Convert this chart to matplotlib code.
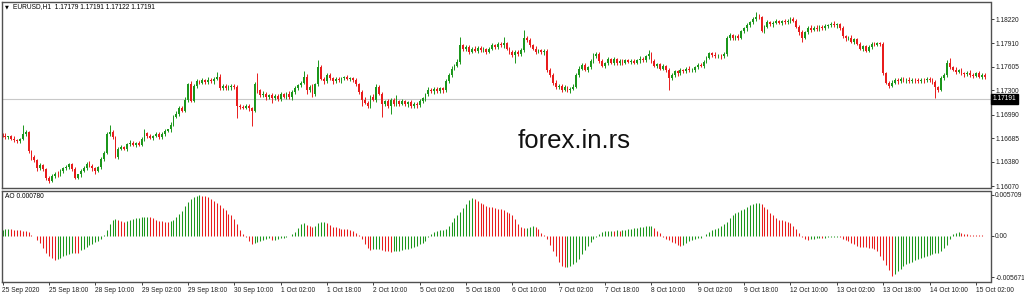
import numpy as np
import matplotlib
matplotlib.use("Agg")
import matplotlib.pyplot as plt
import matplotlib.transforms as mtransforms

plt.rcParams['font.family'] = ['Liberation Sans', 'DejaVu Sans']

# EURUSD H1, 340 bars, prices kept in pips above BASE
BASE = 1.16
PIP = 1e-4
FIRST_OPEN = 73

CLOSE = [
    72, 70, 71, 68, 66, 65, 68, 74, 76, 52,
    44, 40, 30, 34, 29, 18, 14, 20, 23, 22,
    27, 30, 31, 35, 29, 18, 22, 27, 30, 36,
    33, 30, 27, 31, 42, 50, 74, 76, 70, 45,
    55, 57, 55, 61, 63, 60, 62, 60, 68, 75,
    71, 69, 72, 74, 70, 74, 78, 80, 86, 96,
    100, 108, 104, 118, 138, 117, 136, 142, 140, 143,
    141, 144, 142, 145, 148, 133, 136, 133, 134, 136,
    134, 110, 109, 108, 110, 107, 104, 138, 130, 124,
    126, 121, 124, 120, 123, 119, 125, 122, 126, 121,
    128, 133, 137, 140, 148, 130, 135, 125, 138, 160,
    145, 142, 150, 146, 142, 145, 143, 146, 147, 145,
    146, 143, 138, 128, 118, 114, 110, 122, 118, 134,
    126, 112, 116, 110, 118, 112, 116, 113, 116, 112,
    115, 110, 113, 111, 116, 120, 125, 131, 129, 132,
    129, 133, 130, 142, 150, 158, 162, 167, 188, 183,
    186, 180, 184, 181, 185, 182, 183, 180, 184, 188,
    186, 190, 188, 191, 184, 179, 176, 180, 177, 182,
    197, 195, 188, 184, 180, 182, 179, 181, 156, 150,
    140, 134, 136, 131, 134, 130, 132, 135, 150, 158,
    163, 157, 160, 168, 175, 177, 168, 162, 165, 170,
    166, 170, 165, 168, 166, 169, 167, 168, 166, 169,
    171, 169, 174, 177, 168, 162, 164, 158, 161, 157,
    146, 150, 155, 152, 156, 155, 158, 156, 157, 160,
    163, 162, 167, 172, 178, 176, 174, 175, 174, 177,
    198, 201, 197, 200, 198, 206, 210, 214, 218, 222,
    225, 224, 207, 212, 218, 215, 217, 219, 217, 219,
    218, 220, 222, 220, 212, 205, 198, 205, 211, 208,
    211, 209, 212, 210, 213, 214, 216, 214, 215, 210,
    200, 197, 198, 193, 196, 190, 184, 187, 181, 186,
    190, 189, 191, 190, 152, 140, 136, 140, 144, 142,
    145, 143, 144, 142, 144, 143, 142, 144, 143, 145,
    143, 141, 134, 131, 146, 150, 165, 160, 157, 154,
    156, 152, 151, 153, 150, 149, 152, 148, 150, 147,
]

WICK_UP = [
    2, 3, 1, 2, 3, 2, 1, 12, 3, 2,
    2, 3, 2, 3, 2, 1, 2, 3, 2, 3,
    2, 1, 3, 2, 2, 3, 1, 2, 3, 2,
    3, 2, 1, 2, 3, 2, 2, 9, 3, 2,
    2, 3, 2, 1, 3, 2, 2, 3, 2, 5,
    2, 3, 1, 2, 3, 2, 2, 1, 3, 2,
    3, 2, 2, 3, 2, 4, 2, 3, 2, 3,
    2, 3, 2, 2, 6, 3, 2, 2, 3, 2,
    2, 3, 2, 2, 3, 2, 2, 3, 14, 2,
    3, 2, 2, 3, 2, 2, 3, 2, 2, 3,
    2, 3, 2, 2, 7, 3, 2, 3, 2, 9,
    3, 2, 2, 3, 2, 2, 3, 2, 2, 3,
    2, 2, 3, 2, 2, 3, 2, 2, 3, 4,
    3, 2, 2, 3, 2, 2, 8, 2, 3, 2,
    2, 3, 2, 2, 3, 2, 2, 3, 2, 2,
    3, 2, 2, 3, 2, 3, 2, 3, 11, 2,
    3, 2, 2, 3, 2, 2, 3, 2, 2, 3,
    2, 3, 2, 8, 2, 2, 3, 2, 2, 3,
    11, 3, 2, 2, 3, 2, 2, 3, 2, 3,
    2, 3, 2, 2, 3, 2, 2, 3, 2, 3,
    2, 3, 2, 2, 3, 2, 3, 2, 2, 3,
    2, 3, 2, 2, 3, 2, 2, 3, 2, 2,
    3, 2, 2, 5, 2, 3, 2, 2, 3, 2,
    2, 3, 2, 2, 3, 2, 2, 3, 2, 2,
    3, 2, 2, 3, 2, 2, 3, 2, 2, 3,
    2, 3, 2, 2, 3, 2, 2, 3, 2, 3,
    6, 3, 2, 2, 3, 2, 2, 3, 2, 2,
    3, 2, 2, 3, 2, 2, 3, 2, 2, 3,
    2, 3, 2, 2, 3, 2, 2, 3, 2, 2,
    3, 2, 2, 3, 2, 2, 3, 2, 2, 3,
    2, 3, 2, 2, 3, 2, 2, 3, 2, 2,
    3, 2, 2, 3, 2, 2, 3, 2, 2, 3,
    2, 3, 2, 2, 3, 2, 4, 7, 2, 3,
    2, 3, 2, 2, 3, 2, 2, 3, 2, 2,
]

WICK_DN = [
    2, 2, 3, 2, 2, 3, 2, 2, 3, 2,
    3, 2, 3, 2, 2, 3, 3, 2, 2, 3,
    2, 3, 2, 2, 3, 2, 2, 3, 2, 2,
    2, 3, 5, 2, 2, 3, 2, 2, 3, 2,
    3, 2, 2, 3, 2, 2, 3, 2, 2, 3,
    2, 2, 3, 2, 2, 3, 2, 2, 3, 2,
    2, 3, 2, 2, 3, 2, 2, 3, 2, 2,
    3, 2, 2, 3, 2, 2, 3, 2, 2, 3,
    2, 15, 3, 2, 2, 3, 20, 2, 3, 2,
    2, 3, 2, 6, 2, 3, 2, 2, 3, 2,
    3, 2, 2, 3, 2, 4, 2, 3, 2, 2,
    2, 3, 2, 2, 3, 2, 2, 3, 2, 2,
    3, 2, 2, 3, 8, 2, 3, 2, 2, 3,
    2, 16, 2, 3, 10, 2, 2, 3, 2, 2,
    3, 2, 2, 3, 2, 2, 3, 2, 2, 3,
    2, 2, 3, 2, 2, 3, 2, 2, 3, 2,
    2, 3, 2, 2, 3, 2, 2, 3, 2, 2,
    3, 2, 2, 3, 2, 2, 3, 11, 2, 2,
    2, 3, 2, 2, 3, 2, 2, 3, 2, 2,
    3, 2, 2, 3, 2, 2, 3, 2, 2, 3,
    2, 2, 3, 2, 2, 3, 2, 2, 3, 2,
    2, 3, 2, 2, 3, 2, 2, 3, 2, 2,
    3, 2, 2, 3, 2, 2, 3, 2, 2, 3,
    16, 2, 2, 3, 2, 2, 3, 2, 2, 3,
    2, 2, 3, 2, 2, 3, 2, 2, 3, 2,
    2, 3, 2, 2, 3, 2, 2, 3, 2, 2,
    3, 2, 2, 3, 2, 2, 3, 2, 2, 3,
    2, 2, 3, 2, 2, 3, 6, 2, 2, 3,
    2, 2, 3, 2, 2, 3, 2, 2, 3, 2,
    2, 3, 2, 2, 3, 2, 2, 3, 2, 2,
    3, 2, 2, 3, 2, 2, 3, 2, 2, 3,
    2, 2, 3, 2, 2, 3, 2, 2, 3, 2,
    2, 3, 14, 3, 2, 2, 3, 2, 2, 3,
    2, 2, 3, 2, 2, 3, 2, 2, 3, 2,
]

# Awesome Oscillator, in units of 1e-4
AO = [
    8.5, 9.0, 9.4, 9.2, 8.6, 8.0, 7.6, 7.0, 6.4, 6.0,
    2.0, -0.5, -5.5, -10.0, -17.0, -23.0, -27.4, -31.0, -33.0, -32.0,
    -30.0, -28.0, -26.0, -24.7, -23.5, -23.8, -23.9, -20.0, -17.8, -15.0,
    -12.8, -11.0, -8.7, -6.9, -4.1, 1.5, 8.2, 16.0, 22.0, 23.8,
    22.4, 21.0, 19.6, 20.1, 22.4, 23.3, 24.2, 25.1, 25.6, 26.0,
    26.1, 25.6, 24.2, 22.4, 21.0, 20.1, 19.6, 19.4, 20.6, 22.4,
    25.6, 30.0, 35.0, 41.0, 47.0, 51.0, 54.4, 55.7, 56.0, 55.3,
    54.8, 53.5, 51.6, 48.9, 46.2, 43.0, 39.3, 35.2, 31.0, 28.3,
    22.9, 16.0, 8.2, 2.7, -1.8, -6.9, -11.4, -10.0, -8.2, -6.4,
    -5.0, -4.1, -3.2, -5.5, -5.0, -3.7, -2.7, -2.3, -1.4, -0.5,
    2.3, 6.0, 11.4, 16.0, 17.4, 14.6, 13.3, 12.3, 14.2, 17.4,
    19.2, 19.7, 18.3, 15.5, 12.8, 11.9, 11.0, 10.0, 9.6, 9.1,
    8.7, 7.3, 4.1, 0.9, -4.1, -11.0, -17.0, -19.7, -18.3, -17.8,
    -17.4, -18.7, -20.1, -21.0, -21.7, -21.3, -20.6, -20.1, -19.2, -18.3,
    -17.4, -16.0, -14.6, -13.3, -11.4, -9.6, -6.4, -1.8, 2.7, 5.0,
    6.9, 8.2, 8.3, 10.0, 14.2, 18.7, 25.1, 29.2, 33.4, 38.8,
    43.9, 49.4, 53.0, 51.2, 48.4, 46.2, 43.9, 42.0, 40.7, 39.8,
    38.8, 37.9, 36.6, 35.4, 33.4, 31.1, 29.2, 22.9, 16.9, 12.8,
    11.0, 11.4, 12.8, 13.3, 12.3, 9.1, 3.7, 0.9, -3.7, -12.3,
    -20.6, -28.3, -36.0, -41.1, -43.4, -42.8, -41.6, -39.3, -36.1, -31.1,
    -24.7, -18.7, -13.7, -8.7, -4.6, -0.9, 2.7, 5.0, 6.4, 7.3,
    7.4, 7.1, 8.2, 7.5, 8.0, 8.7, 9.1, 9.6, 10.5, 11.2,
    11.9, 12.6, 13.3, 13.7, 14.2, 11.0, 6.9, 3.7, -0.9, -4.1,
    -5.9, -8.2, -10.0, -12.3, -13.7, -11.9, -9.1, -7.3, -5.9, -4.6,
    -3.2, -2.1, 0.3, 3.2, 5.9, 7.8, 9.6, 11.4, 13.3, 16.0,
    18.7, 24.2, 28.3, 31.5, 33.8, 35.6, 37.7, 40.2, 43.0, 44.8,
    45.7, 45.9, 43.9, 40.2, 37.0, 32.4, 28.3, 24.7, 22.4, 21.7,
    21.0, 19.7, 17.8, 14.2, 9.6, 3.7, -0.9, -3.7, -5.0, -4.6,
    -3.7, -2.7, -2.3, -2.7, -2.1, -1.8, -1.4, -1.1, -0.9, -1.8,
    -3.7, -5.5, -7.3, -9.6, -11.0, -13.3, -14.6, -15.1, -15.8, -16.2,
    -16.5, -17.4, -21.0, -27.0, -33.8, -40.7, -47.5, -54.8, -52.0, -48.4,
    -45.2, -42.0, -39.3, -37.5, -35.4, -33.4, -31.5, -30.2, -28.6, -27.2,
    -26.0, -24.7, -23.8, -23.1, -20.6, -16.9, -12.3, -4.6, 2.7, 4.6,
    5.0, 3.9, 2.7, 2.1, 1.6, 1.4, 1.1, 0.9, 0.7, 0.5,
]

PRICE_TICKS = [1.18220, 1.17910, 1.17605, 1.17300, 1.16990, 1.16685, 1.16380, 1.16070]
AO_TICKS = [0.005709, 0.0, -0.005671]
AO_TICK_LABELS = ["0.005709", "0.00", "-0.005671"]
XTICK_LABELS = ["25 Sep 2020", "25 Sep 18:00", "28 Sep 10:00", "29 Sep 02:00", "29 Sep 18:00",
                "30 Sep 10:00", "1 Oct 02:00", "1 Oct 18:00", "2 Oct 10:00", "5 Oct 02:00",
                "5 Oct 18:00", "6 Oct 10:00", "7 Oct 02:00", "7 Oct 18:00", "8 Oct 10:00",
                "9 Oct 02:00", "9 Oct 18:00", "12 Oct 10:00", "13 Oct 02:00", "13 Oct 18:00",
                "14 Oct 10:00", "15 Oct 02:00"]
BARS_PER_LABEL = 16
BID = 1.17191
HEADER = "EURUSD,H1  1.17179 1.17191 1.17122 1.17191"
AO_HEADER = "AO 0.000780"

GREEN = "#1b961b"
RED = "#e81c1c"
FRAME = "#505050"
FS = 4.8

close = BASE + np.array(CLOSE) * PIP
# H1 forex bars open where the previous one closed
opn = np.concatenate([[BASE + FIRST_OPEN * PIP], close[:-1]])
high = np.maximum(opn, close) + np.array(WICK_UP) * PIP
low = np.minimum(opn, close) - np.array(WICK_DN) * PIP
x = np.arange(len(close))
up = close >= opn
ccol = np.where(up, GREEN, RED)

ao = np.array(AO) * 1e-4
ao_up = np.concatenate([[True], ao[1:] > ao[:-1]])
acol = np.where(ao_up, GREEN, RED)

W, H = 1024, 297
fig = plt.figure(figsize=(W / 100, H / 100), dpi=100)
ax = fig.add_axes([2 / W, 1 - 188 / H, 988.5 / W, 186 / H])
ax2 = fig.add_axes([2 / W, 1 - 282 / H, 988.5 / W, 91.5 / H])

xlim = ((2 - 2.5) / 2.897, (990.5 - 2.5) / 2.897)

# candles
ax.vlines(x, low, high, colors=ccol, linewidth=0.7)
body = np.where(np.abs(close - opn) < 0.6 * PIP, 0.6 * PIP, close - opn)
ax.bar(x, body, bottom=opn, width=0.62, color=ccol, linewidth=0)
ax.axhline(BID, color="#c8c8c8", lw=0.8, zorder=0)
ax.set_xlim(*xlim)
ax.set_ylim(BASE + 4.5 * PIP, BASE + 243.9 * PIP)
ax.yaxis.tick_right()
ax.set_yticks(PRICE_TICKS)
ax.set_yticklabels([f"{v:.5f}" for v in PRICE_TICKS])
ax.tick_params(axis="y", direction="out", length=2.2, width=0.6, pad=1.2,
               labelsize=FS, colors="#202020")
ax.set_xticks([])
for s in ax.spines.values():
    s.set_color(FRAME)
    s.set_linewidth(1.0)

trans = mtransforms.blended_transform_factory(ax.transAxes, ax.transData)
ax.text(1.0025, BID, f"{BID:.5f}", transform=trans, fontsize=FS, color="white",
        va="center", ha="left",
        bbox=dict(boxstyle="square,pad=0.25", fc="black", ec="black"))

# AO histogram
ax2.vlines(x, 0, ao, colors=acol, linewidth=0.75)
ax2.set_xlim(*xlim)
ax2.set_ylim(-63.5e-4, 62.8e-4)
ax2.yaxis.tick_right()
ax2.set_yticks(AO_TICKS)
ax2.set_yticklabels(AO_TICK_LABELS)
ax2.tick_params(axis="y", direction="out", length=2.2, width=0.6, pad=1.2,
                labelsize=FS, colors="#202020")
ax2.set_xticks(np.arange(len(XTICK_LABELS)) * BARS_PER_LABEL)
ax2.set_xticklabels(XTICK_LABELS, ha="left")
ax2.tick_params(axis="x", direction="out", length=2.2, width=0.6, pad=1.5,
                labelsize=FS, colors="#202020")
for lab in ax2.get_xticklabels():
    lab.set_horizontalalignment("left")
for s in ax2.spines.values():
    s.set_color(FRAME)
    s.set_linewidth(1.0)

# labels and watermark
fig.text(5 / W, 1 - 7 / H, "\u25bc", fontsize=3.6, va="center", ha="left",
         family=["DejaVu Sans"])
fig.text(13 / W, 1 - 7 / H, HEADER, fontsize=FS, va="center", ha="left")
fig.text(5 / W, 1 - 196 / H, AO_HEADER, fontsize=FS, va="center", ha="left")
fig.text(574 / W, 1 - 141 / H, "forex.in.rs", fontsize=18.5, color="#111111",
         ha="center", va="center")

fig.savefig("out.png", dpi=100)
